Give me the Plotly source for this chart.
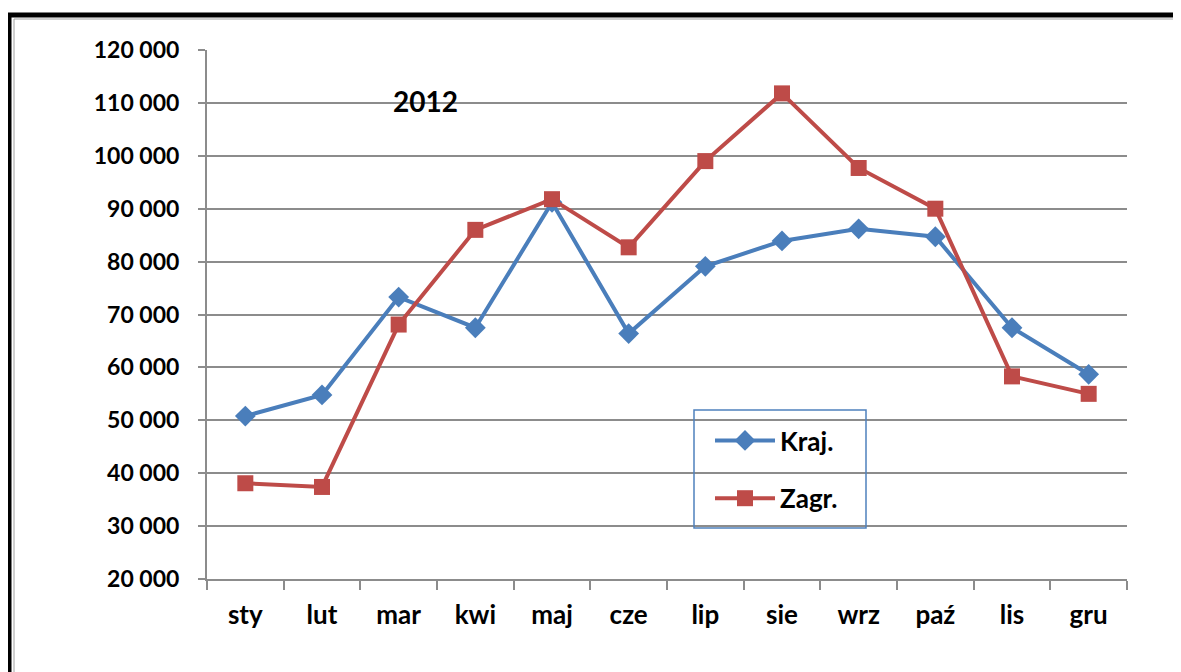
import plotly.graph_objects as go

months = ["sty", "lut", "mar", "kwi", "maj", "cze", "lip", "sie", "wrz", "paź", "lis", "gru"]
kraj = [50800, 54800, 73300, 67500, 91200, 66400, 79100, 83900, 86200, 84700, 67500, 58700]
zagr = [38100, 37400, 68100, 86000, 91800, 82700, 99000, 111800, 97700, 90000, 58300, 55000]
y_ticks = [20000, 30000, 40000, 50000, 60000, 70000, 80000, 90000, 100000, 110000, 120000]

# the page body has an 8px margin; plot area in screen pixels: x 207..1127, y 50..579
OFF = 8
W, H = 1181 - OFF, 672 - OFF
SL, SR, ST, SB = 207, 1127, 50, 579
L, T = SL - OFF, ST - OFF
R, B = OFF + W - SR, OFF + H - SB
pw = SR - SL
ph = SB - ST


def px(x):
    return (x - SL) / pw


def py(y):
    return (SB - y) / ph


FONT = "Lato"
blue = "#4A7EBB"
red = "#BE4B48"
grid = "#8C8C8C"

fig = go.Figure()
fig.add_trace(go.Scatter(
    x=months, y=kraj, name="Kraj.", mode="lines+markers", legendgroup="a",
    line=dict(color=blue, width=4),
    marker=dict(symbol="diamond", size=16, color=blue),
))
fig.add_trace(go.Scatter(
    x=months, y=zagr, name="Zagr.", mode="lines+markers", legendgroup="b",
    line=dict(color=red, width=4),
    marker=dict(symbol="square", size=16, color=red),
))

fig.update_layout(
    width=W, height=H,
    margin=dict(l=L, r=R, t=T, b=B, pad=0),
    paper_bgcolor="white", plot_bgcolor="white",
    separators=", ",
    font=dict(family=FONT, size=23, color="black", weight="bold"),
    showlegend=True,
    legend=dict(
        x=px(710), y=py(417), xanchor="left", yanchor="top",
        bgcolor="rgba(0,0,0,0)", borderwidth=0,
        font=dict(family=FONT, size=26, color="black", weight="bold"),
        itemwidth=60, tracegroupgap=21,
    ),
    xaxis=dict(
        type="category", range=[-0.5, 11.5],
        showgrid=False, showline=True, linecolor=grid, linewidth=2,
        ticks="outside", tickson="boundaries", ticklen=9, tickcolor=grid, tickwidth=2,
        ticklabelstandoff=12,
        tickfont=dict(family=FONT, size=26, color="black", weight="bold"),
    ),
    yaxis=dict(
        range=[20000, 120000], tickvals=y_ticks, tickformat=",d",
        showgrid=True, gridcolor=grid, gridwidth=2,
        showline=True, linecolor=grid, linewidth=2,
        ticks="outside", ticklen=7, tickcolor=grid, tickwidth=2,
        ticklabelstandoff=14, zeroline=False,
        tickfont=dict(family=FONT, size=23, color="black", weight="bold"),
    ),
    annotations=[dict(
        text="2012", xref="paper", yref="paper", x=px(425), y=py(101),
        xanchor="center", yanchor="middle", showarrow=False,
        font=dict(family=FONT, size=28, color="black", weight="bold"),
    )],
    shapes=[
        dict(type="rect", xref="paper", yref="paper",
             x0=px(9), x1=px(1200), y0=py(15), y1=py(700),
             line=dict(color="black", width=5), layer="above"),
        dict(type="rect", xref="paper", yref="paper",
             x0=px(14), x1=px(1200), y0=py(19), y1=py(700),
             line=dict(color="#A0A0A0", width=1), layer="above"),
        dict(type="rect", xref="paper", yref="paper",
             x0=px(694), x1=px(866), y0=py(410), y1=py(528),
             line=dict(color="#4F81BD", width=1.5), fillcolor="rgba(0,0,0,0)", layer="above"),
    ],
)

fig.write_html("out.html")
